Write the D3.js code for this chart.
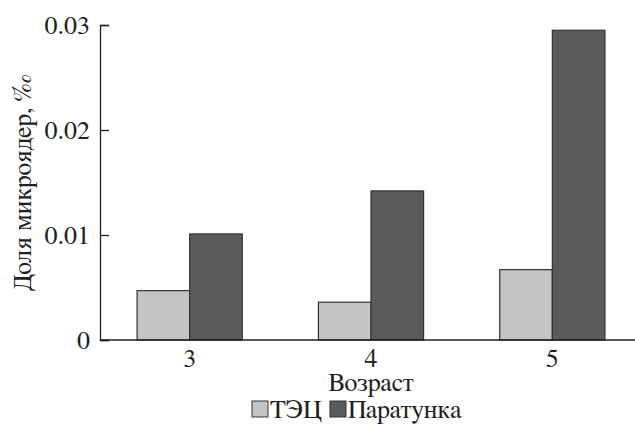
<!DOCTYPE html>
<html>
<head>
<meta charset="utf-8">
<script src="https://cdn.jsdelivr.net/npm/d3@7"></script>
<style>
  body { margin: 0; background: #fff; }
</style>
</head>
<body>
<div id="chart"></div>
<script>
// data
const ages = ["3", "4", "5"];
const seriesNames = ["ТЭЦ", "Паратунка"];
const tecValues = [0.0047, 0.0036, 0.0067];
const paratunkaValues = [0.0101, 0.0142, 0.0295];
const yTicks = [0, 0.01, 0.02, 0.03];
const yTickLabels = ["0", "0.01", "0.02", "0.03"];

const colors = ["#c3c4c6", "#5b5b5d"];
const serif = "'FreeSerif', 'Liberation Serif', cursive";

function draw() {
    const W = 635, H = 430;
    const margin = { top: 25, right: 0, bottom: 90, left: 100 };
    const height = H - margin.top - margin.bottom;

    const svg = d3.select("#chart")
        .append("svg")
        .attr("width", W)
        .attr("height", H)
        .style("font-family", serif);

    // Scales
    const x0 = d3.scaleBand()
        .domain(ages)
        .range([99, 643])
        .paddingInner(0.42)
        .paddingOuter(0.21);

    const x1 = d3.scaleBand()
        .domain(seriesNames)
        .range([0, x0.bandwidth()]);

    const y = d3.scaleLinear()
        .domain([0, 0.03])
        .range([margin.top + height, margin.top]);

    const rows = ages.map((a, i) => ({ age: a, values: [tecValues[i], paratunkaValues[i]] }));

    // Bars
    const groups = svg.append("g")
        .selectAll("g")
        .data(rows)
        .enter().append("g")
        .attr("transform", d => "translate(" + x0(d.age) + ",0)");

    groups.selectAll("rect")
        .data(d => d.values.map((v, j) => ({ name: seriesNames[j], value: v, j: j })))
        .enter().append("rect")
        .attr("x", d => x1(d.name))
        .attr("y", d => y(d.value))
        .attr("width", x1.bandwidth())
        .attr("height", d => y(0) - y(d.value))
        .attr("fill", d => colors[d.j])
        .attr("stroke", "#333")
        .attr("stroke-width", 1.2);

    // Y axis (ticks pointing inward)
    const yAxis = svg.append("g")
        .attr("transform", "translate(" + margin.left + ",0)")
        .call(d3.axisRight(y).tickValues(yTicks).tickSize(9).tickFormat(""));
    yAxis.select(".domain").attr("stroke", "#231f20").attr("stroke-width", 1.3);
    yAxis.selectAll(".tick line").attr("stroke", "#231f20").attr("stroke-width", 1.3);

    function label(sel) {
        return sel.style("font-family", serif).style("font-size", "26px").attr("fill", "#231f20");
    }

    // cyrillic-only labels: an invisible trailing ‰ keeps the serif fallback face
    function cyr(sel, str) {
        sel.text(null);
        sel.append("tspan").text(str);
        sel.append("tspan").attr("fill-opacity", 0).text("‰");
        return sel;
    }

    svg.append("g")
        .selectAll("text")
        .data(yTicks)
        .enter().append("text")
        .attr("x", margin.left - 10)
        .attr("y", d => y(d))
        .attr("dy", "0.35em")
        .attr("text-anchor", "end")
        .call(label)
        .text((d, i) => yTickLabels[i]);

    // X axis line across the full width
    svg.append("line")
        .attr("x1", margin.left)
        .attr("x2", W)
        .attr("y1", y(0))
        .attr("y2", y(0))
        .attr("stroke", "#231f20")
        .attr("stroke-width", 1.3);

    svg.append("g")
        .selectAll("text")
        .data(ages)
        .enter().append("text")
        .attr("x", d => x0(d) + x0.bandwidth() / 2)
        .attr("y", 367)
        .attr("text-anchor", "middle")
        .call(label)
        .text(d => d);

    // Axis titles
    const xTitle = svg.append("text")
        .attr("x", 371)
        .attr("y", 391)
        .call(label)
        .call(cyr, "Возраст");
    const visibleLen = xTitle.node().getSubStringLength(0, 7);
    xTitle.attr("x", 371 - visibleLen / 2);

    svg.append("text")
        .attr("transform", "translate(31,183) rotate(-90)")
        .attr("text-anchor", "middle")
        .call(label)
        .text("Доля микроядер, ‰");

    // Legend
    const legendItems = [
        { name: seriesNames[0], x: 252, tx: 270 },
        { name: seriesNames[1], x: 330, tx: 348 }
    ];
    const legend = svg.append("g")
        .selectAll("g")
        .data(legendItems)
        .enter().append("g");

    legend.append("rect")
        .attr("x", d => d.x)
        .attr("y", 401)
        .attr("width", 16)
        .attr("height", 16)
        .attr("fill", (d, i) => colors[i])
        .attr("stroke", "#333")
        .attr("stroke-width", 1);

    legend.append("text")
        .attr("x", d => d.tx)
        .attr("y", 418)
        .call(label)
        .each(function (d) { cyr(d3.select(this), d.name); });
}

// make sure the serif face is ready before drawing
if (document.fonts && document.fonts.load) {
    document.fonts.load("26px FreeSerif", "Возраст ТЭЦ Паратунка Доля 0123456789.‰")
        .then(draw, draw);
} else {
    draw();
}
</script>
</body>
</html>
